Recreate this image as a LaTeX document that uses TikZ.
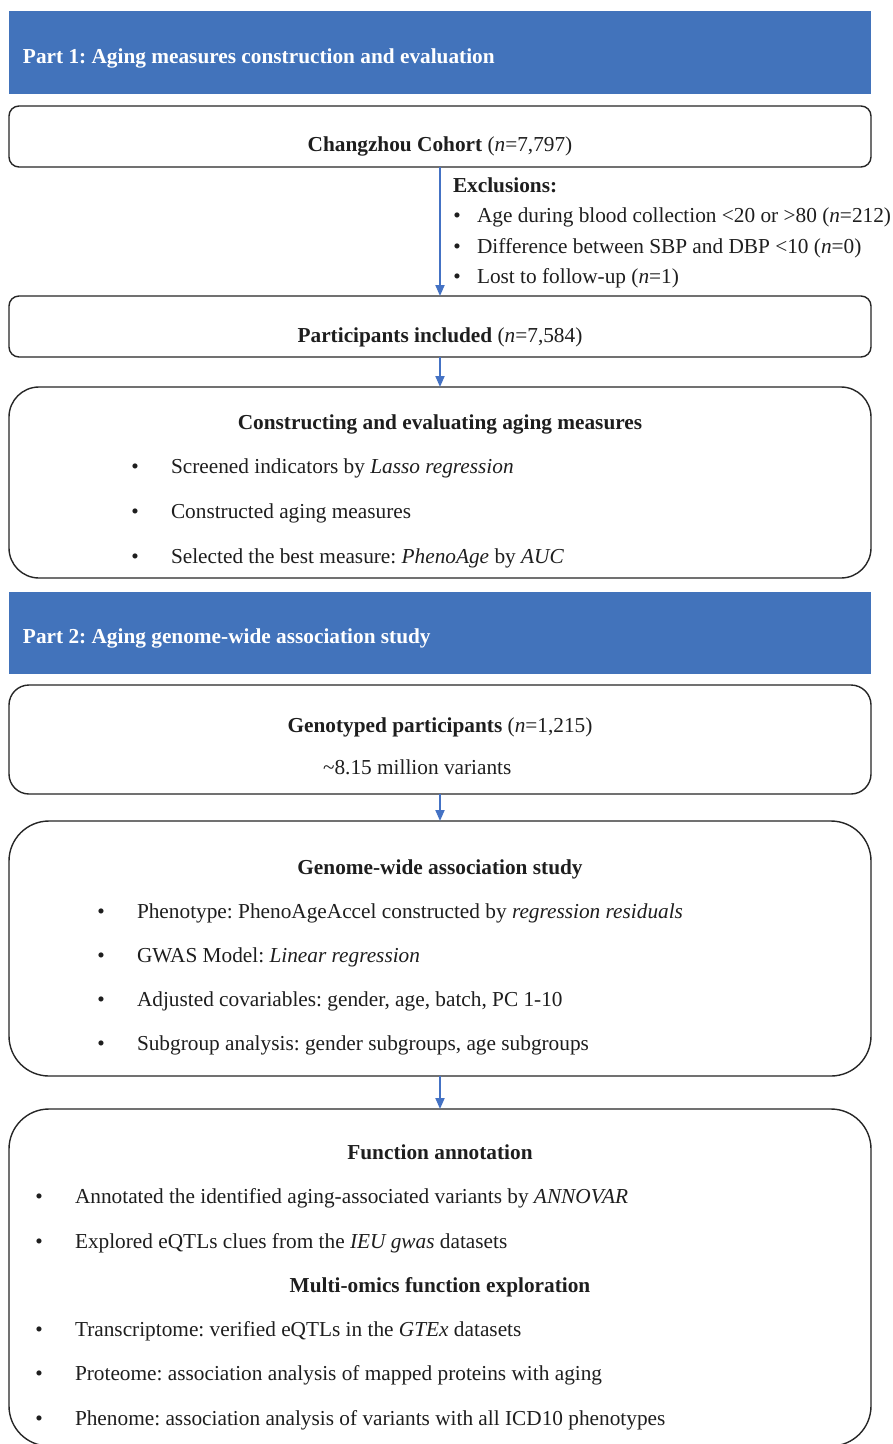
\documentclass[tikz,border=0pt]{standalone}
\usepackage{fontspec}
\setmainfont{Liberation Serif}
\usetikzlibrary{arrows.meta}
\definecolor{hdrblue}{RGB}{66,115,187}
\definecolor{arrblue}{RGB}{68,114,196}
\definecolor{boxline}{RGB}{38,38,38}
\definecolor{txtcol}{RGB}{30,30,30}
\frenchspacing
\begin{document}
\begin{tikzpicture}[x=1pt,y=-1pt,
  box/.style={draw=boxline, line width=1.4pt, outer sep=0pt, inner sep=0pt, fill=white, minimum width=862pt},
  hdr/.style={fill=hdrblue, draw=none, outer sep=0pt, inner sep=0pt, minimum width=862pt},
  txt/.style={inner sep=0pt, outer sep=0pt, font=\fontsize{21.3}{25}\selectfont\frenchspacing, text=txtcol},
  hdrtxt/.style={inner sep=0pt, outer sep=0pt, font=\fontsize{21.3}{25}\selectfont\bfseries\frenchspacing, text=white},
  arr/.style={draw=arrblue, line width=1.9pt, -{Triangle[width=9pt,length=11pt]}}]
\useasboundingbox[fill=white] (0,0) rectangle (893,1444);

% Part 1
\node[hdr, minimum height=83pt] (h1) at (440,52.5) {};
\node[hdrtxt, anchor=base west] (h1t) at (23,63) {Part 1: Aging measures construction and evaluation};

\node[box, rounded corners=10pt, minimum height=61pt] (b1) at (440,136.5) {};
\node[txt, anchor=base] (b1t) at (440,151) {\textbf{Changzhou Cohort} (\textit{n}=7,797)};

\node[txt, anchor=base west] (ex) at (453,192) {\textbf{Exclusions:}};
\node[txt, anchor=base] (exb1) at (457,222) {•};
\node[txt, anchor=base west] (ex1) at (477,222) {Age during blood collection <20 or >80 (\textit{n}=212)};
\node[txt, anchor=base] (exb2) at (457,253) {•};
\node[txt, anchor=base west] (ex2) at (477,253) {Difference between SBP and DBP <10 (\textit{n}=0)};
\node[txt, anchor=base] (exb3) at (457,283) {•};
\node[txt, anchor=base west] (ex3) at (477,283) {Lost to follow-up (\textit{n}=1)};

\node[box, rounded corners=10pt, minimum height=61pt] (b2) at (440,326.5) {};
\node[txt, anchor=base] (b2t) at (440,342) {\textbf{Participants included} (\textit{n}=7,584)};

\node[box, rounded corners=30pt, minimum height=191pt] (b3) at (440,482.5) {};
\node[txt, anchor=base] (b3t) at (440,429) {\textbf{Constructing and evaluating aging measures}};
\node[txt, anchor=base] (b3b1) at (135,473) {•};
\node[txt, anchor=base west] (b3i1) at (171,473) {Screened indicators by \textit{Lasso regression}};
\node[txt, anchor=base] (b3b2) at (135,518) {•};
\node[txt, anchor=base west] (b3i2) at (171,518) {Constructed aging measures};
\node[txt, anchor=base] (b3b3) at (135,563) {•};
\node[txt, anchor=base west] (b3i3) at (171,563) {Selected the best measure: \textit{PhenoAge} by \textit{AUC}};

% Part 2
\node[hdr, minimum height=82pt] (h2) at (440,633) {};
\node[hdrtxt, anchor=base west] (h2t) at (23,643) {Part 2: Aging genome-wide association study};

\node[box, rounded corners=20pt, minimum height=109pt] (b4) at (440,739.5) {};
\node[txt, anchor=base] (b4t) at (440,732) {\textbf{Genotyped participants} (\textit{n}=1,215)};
\node[txt, anchor=base west] (b4s) at (323,774) {\textasciitilde8.15 million variants};

\node[box, rounded corners=40pt, minimum height=255pt] (b5) at (440,948.5) {};
\node[txt, anchor=base] (b5t) at (440,874) {\textbf{Genome-wide association study}};
\node[txt, anchor=base] (b5b1) at (101,918) {•};
\node[txt, anchor=base west] (b5i1) at (137,918) {Phenotype: PhenoAgeAccel constructed by \textit{regression residuals}};
\node[txt, anchor=base] (b5b2) at (101,962) {•};
\node[txt, anchor=base west] (b5i2) at (137,962) {GWAS Model: \textit{Linear regression}};
\node[txt, anchor=base] (b5b3) at (101,1006) {•};
\node[txt, anchor=base west] (b5i3) at (137,1006) {Adjusted covariables: gender, age, batch, PC 1-10};
\node[txt, anchor=base] (b5b4) at (101,1050) {•};
\node[txt, anchor=base west] (b5i4) at (137,1050) {Subgroup analysis: gender subgroups, age subgroups};

\node[box, rounded corners=40pt, minimum height=337pt] (b6) at (440,1277.5) {};
\node[txt, anchor=base] (b6t) at (440,1159) {\textbf{Function annotation}};
\node[txt, anchor=base] (b6b1) at (39,1203) {•};
\node[txt, anchor=base west] (b6i1) at (75,1203) {Annotated the identified aging-associated variants by \textit{ANNOVAR}};
\node[txt, anchor=base] (b6b2) at (39,1248) {•};
\node[txt, anchor=base west] (b6i2) at (75,1248) {Explored eQTLs clues from the \textit{IEU gwas} datasets};
\node[txt, anchor=base] (b6t2) at (440,1292) {\textbf{Multi-omics function exploration}};
\node[txt, anchor=base] (b6b3) at (39,1336) {•};
\node[txt, anchor=base west] (b6i3) at (75,1336) {Transcriptome: verified eQTLs in the \textit{GTEx} datasets};
\node[txt, anchor=base] (b6b4) at (39,1380) {•};
\node[txt, anchor=base west] (b6i4) at (75,1380) {Proteome: association analysis of mapped proteins with aging};
\node[txt, anchor=base] (b6b5) at (39,1425) {•};
\node[txt, anchor=base west] (b6i5) at (75,1425) {Phenome: association analysis of variants with all ICD10 phenotypes};

% connectors
\draw[arr] (b1.south) -- (b2.north);
\draw[arr] (b2.south) -- (b3.north);
\draw[arr] (b4.south) -- (b5.north);
\draw[arr] (b5.south) -- (b6.north);
\end{tikzpicture}
\end{document}
